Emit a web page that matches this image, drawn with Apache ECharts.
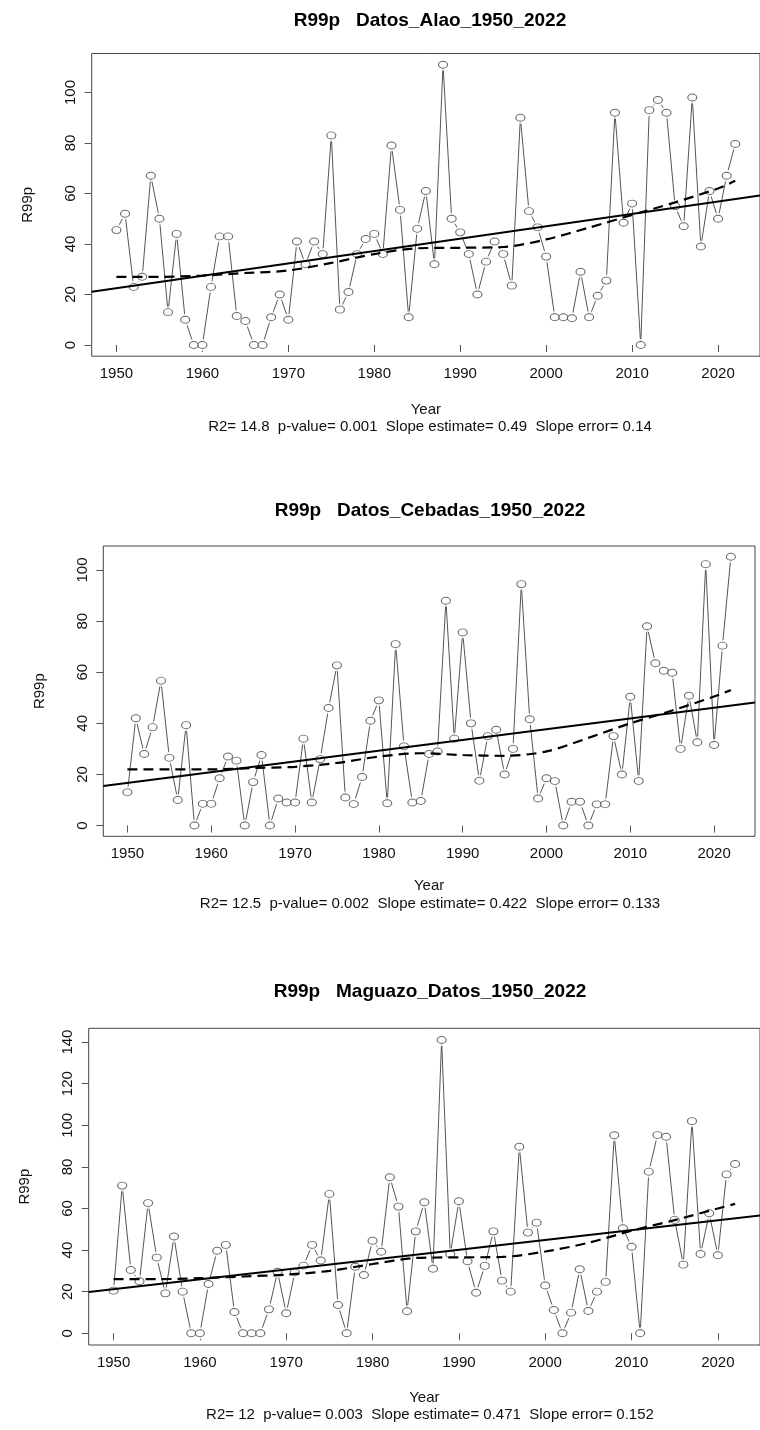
<!DOCTYPE html>
<html>
<head>
<meta charset="utf-8">
<script src="https://cdn.jsdelivr.net/npm/echarts@6/dist/echarts.min.js"></script>
<style>
  html, body { margin: 0; padding: 0; background: #fff; }
  #chart { width: 760px; height: 1430px; }
</style>
</head>
<body>
<div id="chart"></div>
<script>
// ---------- data ----------
const years = [1950,1951,1952,1953,1954,1955,1956,1957,1958,1959,
  1960,1961,1962,1963,1964,1965,1966,1967,1968,1969,
  1970,1971,1972,1973,1974,1975,1976,1977,1978,1979,
  1980,1981,1982,1983,1984,1985,1986,1987,1988,1989,
  1990,1991,1992,1993,1994,1995,1996,1997,1998,1999,
  2000,2001,2002,2003,2004,2005,2006,2007,2008,2009,
  2010,2011,2012,2013,2014,2015,2016,2017,2018,2019,
  2020,2021,2022];

const alaoValues = [45.5,52,23,27,67,50,13,44,10,0,
  0,23,43,43,11.5,9.5,0,0,11,20,
  10,41,32,41,36,83,14,21,36,42,
  44,36,79,53.5,11,46,61,32,111,50,
  44.6,36,20,33,41,36,23.5,90,53,46.6,
  35,11,11,10.6,29,11,19.5,25.5,92,48.4,
  56,0,93,97,92,55,47,98,39,61,
  50,67,79.6];

const cebadasValues = [13,42,28,38.5,56.7,26.5,10,39.3,0,8.5,
  8.5,18.5,27,25.4,0,17,27.6,0,10.6,9,
  9,34,9,26,46,62.7,11,8.4,19,41,
  49,8.7,71,31,9,9.6,28,29,88,34,
  75.6,40,17.5,35,37.5,20,30,94.5,41.6,10.6,
  18.5,17.4,0,9.3,9.3,0,8.3,8.3,35,20,
  50.4,17.4,78,63.5,60.6,59.8,30,50.8,32.6,102.3,
  31.5,70.4,105.2];

const maguazoValues = [20.5,71,30.4,25,62.6,36.4,19.2,46.5,20,0,
  0,23.7,39.7,42.5,10.2,0,0,0,11.5,29.6,
  9.6,29.3,32.5,42.5,35,67,13.6,0,32,28,
  44.5,39.2,75,60.9,10.6,49,63,31,141,38,
  63.5,34.6,19.5,32.4,49,25.3,20,89.7,48.4,53.2,
  23,11.2,0,9.9,30.8,10.7,20,24.7,95.2,50.5,
  41.6,0,77.7,95.3,94.5,54.5,33,102,38.1,57.7,
  37.5,76.4,81.4];

// linear trend (end points across the plotting range)
const alaoTrend    = [[1947.12, 21.1], [2024.88, 59.2]];
const cebadasTrend = [[1947.12, 15.5], [2024.88, 48.2]];
const maguazoTrend = [[1947.12, 19.9], [2024.88, 56.6]];

// smoothed (lowess) curves
const smoothYears = [1950,1955,1960,1965,1970,1975,1980,1985,1990,1995,2000,2005,2010,2015,2020,2022];
const alaoSmooth    = [27,27,27.5,28.5,29.5,32.5,36,38.3,38.5,38.8,41.8,46.5,51.5,56.5,62,65];
const cebadasSmooth = [22,22,22,22.5,23,24.5,27,28.3,27.6,27.3,29,34.3,40,45,50.5,53];
const maguazoSmooth = [26,26,26.5,27.3,28.2,30,33.3,36.2,36.5,36.7,39.3,43.5,49.3,54.4,60,62.2];

const xTicks = [1950,1960,1970,1980,1990,2000,2010,2020];
const yTicksA = [0,20,40,60,80,100];
const yTicksM = [0,20,40,60,80,100,120,140];

const titles = ['R99p   Datos_Alao_1950_2022', 'R99p   Datos_Cebadas_1950_2022', 'R99p   Maguazo_Datos_1950_2022'];
const footers = [
  'R2= 14.8  p-value= 0.001  Slope estimate= 0.49  Slope error= 0.14',
  'R2= 12.5  p-value= 0.002  Slope estimate= 0.422  Slope error= 0.133',
  'R2= 12  p-value= 0.003  Slope estimate= 0.471  Slope error= 0.152'
];

// ---------- layout ----------
const FONT = '"Liberation Sans", Arial, sans-serif';
const panels = [
  { values: alaoValues, trend: alaoTrend, smooth: alaoSmooth, yTicks: yTicksA,
    grid: { left: 91.7, top: 53.5, width: 677.6, height: 302.7 }, yMin: -4.44, yMax: 115.44,
    titleY: 21, footY: 427, nameGap: 46 },
  { values: cebadasValues, trend: cebadasTrend, smooth: cebadasSmooth, yTicks: yTicksA,
    grid: { left: 103.3, top: 546, width: 651.7, height: 290.3 }, yMin: -4.21, yMax: 109.41,
    titleY: 511, footY: 904, nameGap: 42 },
  { values: maguazoValues, trend: maguazoTrend, smooth: maguazoSmooth, yTicks: yTicksM,
    grid: { left: 88.7, top: 1028.3, width: 684.3, height: 316.7 }, yMin: -5.64, yMax: 146.64,
    titleY: 992, footY: 1415, nameGap: 45 }
];

const grids = [], xAxes = [], yAxes = [], series = [], graphics = [];

panels.forEach((p, i) => {
  grids.push(Object.assign({ show: true, borderColor: '#444', borderWidth: 1, backgroundColor: 'transparent' }, p.grid));
  xAxes.push({
    type: 'value', gridIndex: i, min: 1947.12, max: 2024.88,
    name: 'Year', nameLocation: 'middle', nameGap: p.nameGap,
    nameTextStyle: { fontFamily: FONT, fontSize: 15, color: '#111' },
    axisLine: { show: false }, splitLine: { show: false },
    axisTick: { show: true, length: 7, lineStyle: { color: '#555' }, customValues: xTicks },
    axisLabel: { fontFamily: FONT, fontSize: 15, color: '#111', margin: 10, customValues: xTicks,
      formatter: v => String(Math.round(v)) }
  });
  yAxes.push({
    type: 'value', gridIndex: i, min: p.yMin, max: p.yMax,
    name: 'R99p', nameLocation: 'middle', nameGap: 56, nameRotate: 90,
    nameTextStyle: { fontFamily: FONT, fontSize: 15, color: '#111' },
    axisLine: { show: false }, splitLine: { show: false },
    axisTick: { show: true, length: 7, lineStyle: { color: '#555' }, customValues: p.yTicks },
    axisLabel: { fontFamily: FONT, fontSize: 15, color: '#111', rotate: 90, margin: 13, customValues: p.yTicks,
      formatter: v => String(Math.round(v)) }
  });
  const pts = years.map((y, k) => [y, p.values[k]]);
  series.push({
    type: 'line', xAxisIndex: i, yAxisIndex: i, data: pts, showSymbol: false, z: 2,
    lineStyle: { color: '#555', width: 1 }, silent: true, animation: false
  });
  series.push({
    type: 'scatter', xAxisIndex: i, yAxisIndex: i, data: pts, symbol: 'circle', symbolSize: [15, 12], z: 3,
    itemStyle: { color: '#fff', borderWidth: 0 }, silent: true, animation: false
  });
  series.push({
    type: 'scatter', xAxisIndex: i, yAxisIndex: i, data: pts, symbol: 'circle', symbolSize: [9, 7], z: 4,
    itemStyle: { color: '#fff', borderColor: '#444', borderWidth: 1 }, silent: true, animation: false
  });
  series.push({
    type: 'line', xAxisIndex: i, yAxisIndex: i, data: p.trend, showSymbol: false, z: 5,
    lineStyle: { color: '#000', width: 2 }, silent: true, animation: false
  });
  series.push({
    type: 'line', xAxisIndex: i, yAxisIndex: i, data: smoothYears.map((y, k) => [y, p.smooth[k]]),
    showSymbol: false, z: 5, smooth: 0.3,
    lineStyle: { color: '#000', width: 2.2, type: [10, 6] }, silent: true, animation: false
  });
  graphics.push({
    type: 'text', x: 430, y: p.titleY,
    style: { text: titles[i], font: 'bold 19px ' + FONT, fill: '#000', textAlign: 'center', textVerticalAlign: 'middle' }
  });
  graphics.push({
    type: 'text', x: 430, y: p.footY,
    style: { text: footers[i], font: '15px ' + FONT, fill: '#111', textAlign: 'center', textVerticalAlign: 'middle' }
  });
});

const chart = echarts.init(document.getElementById('chart'), null, { renderer: 'canvas' });
chart.setOption({
  animation: false,
  backgroundColor: '#fff',
  grid: grids,
  xAxis: xAxes,
  yAxis: yAxes,
  series: series,
  graphic: graphics
});
</script>
</body>
</html>
